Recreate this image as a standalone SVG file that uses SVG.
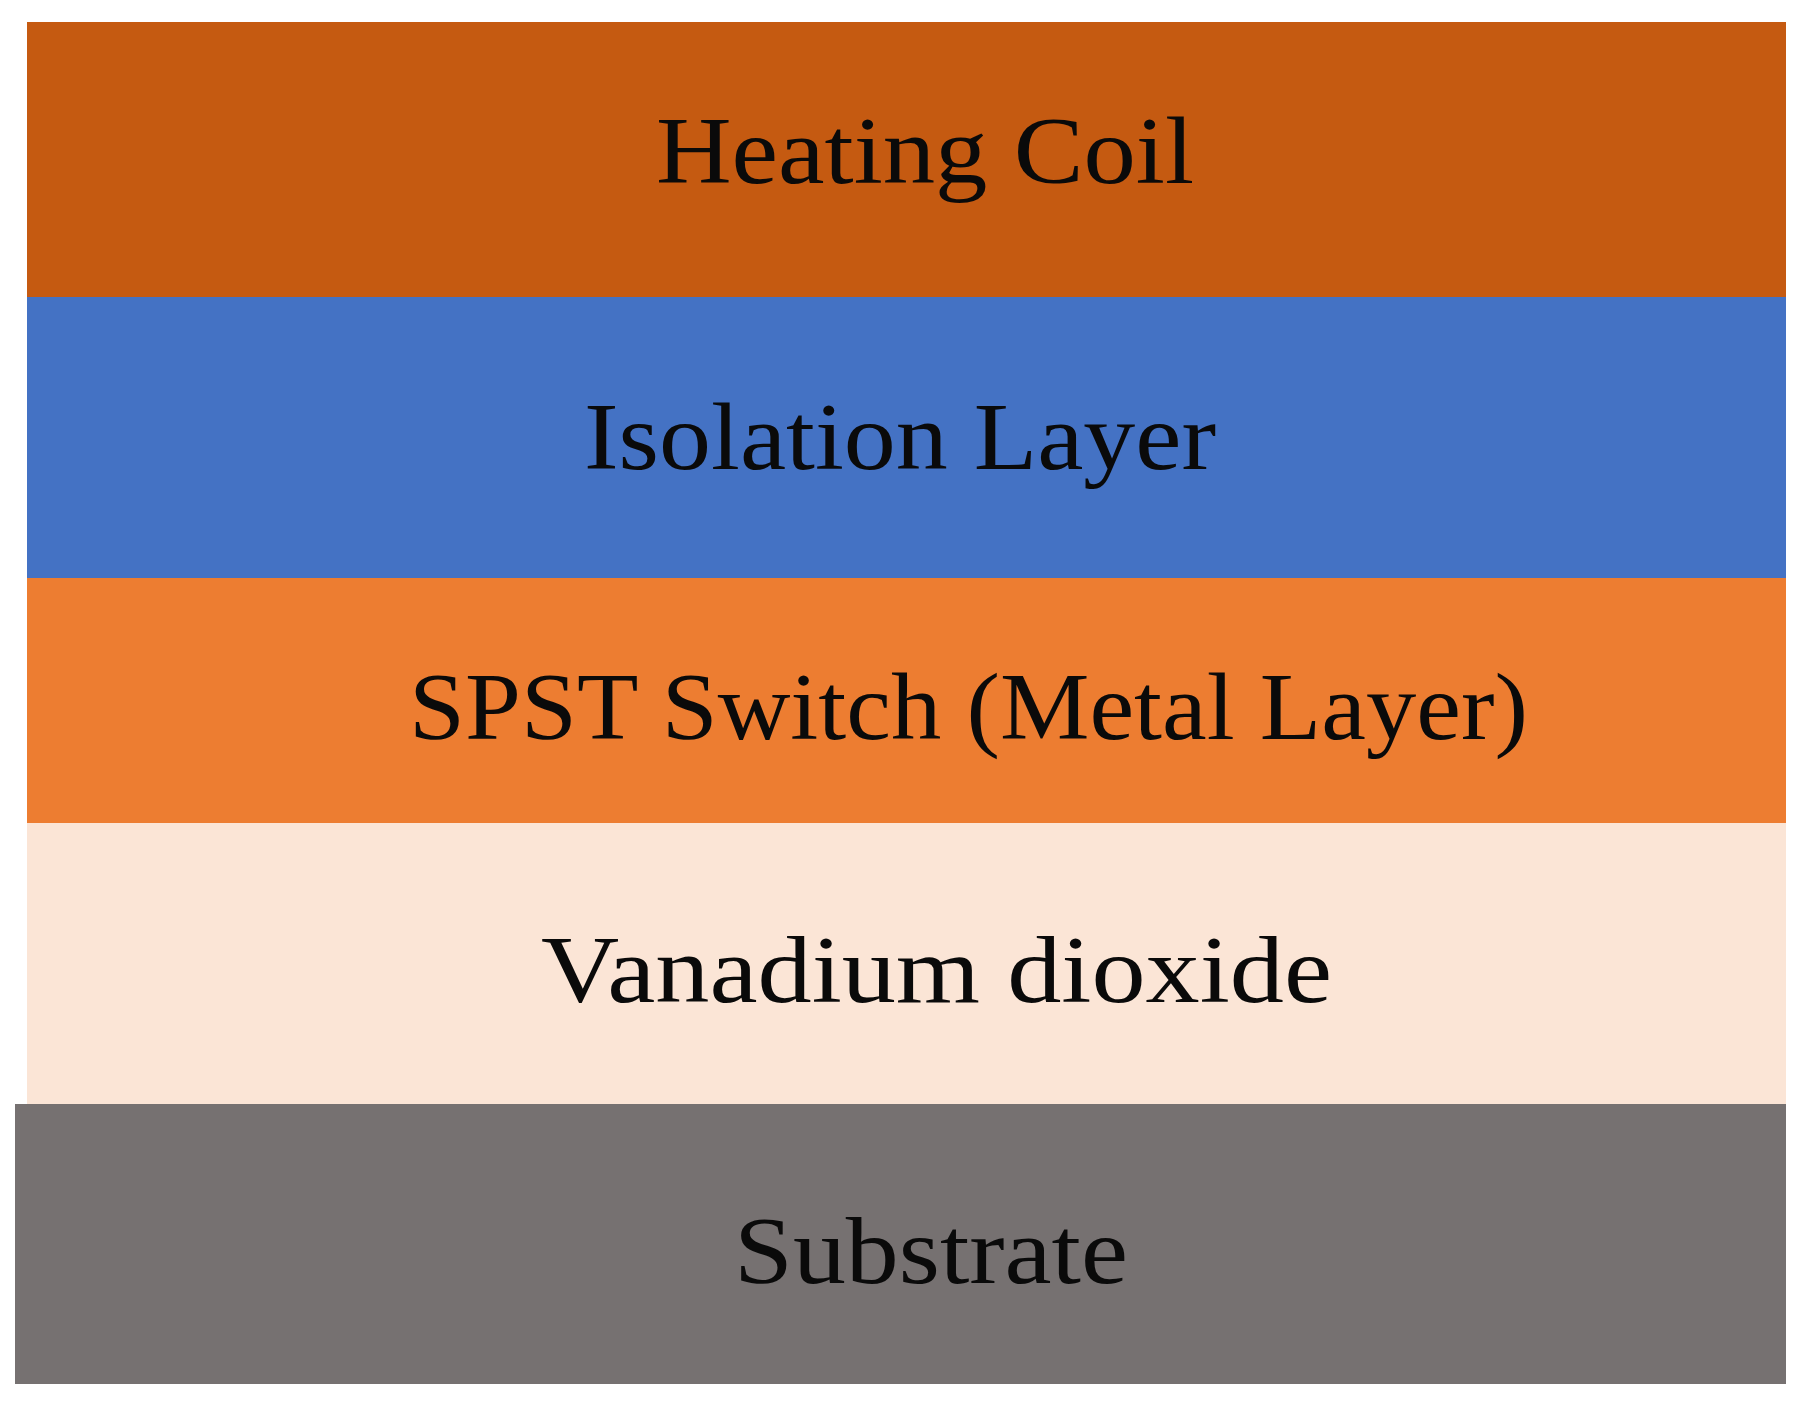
<svg xmlns="http://www.w3.org/2000/svg" width="1816" height="1404" viewBox="0 0 1816 1404">
<style>
.lbl{font-family:"Liberation Serif","Times New Roman",serif;font-size:96px;fill:#0a0a0a;}
</style>
<rect x="0" y="0" width="1816" height="1404" fill="#ffffff"/>
<g id="heating-coil">
<rect x="27" y="22" width="1759" height="275" fill="#C55A11"/>
<text class="lbl" x="656" y="183" textLength="538" lengthAdjust="spacingAndGlyphs">Heating Coil</text>
</g>
<g id="isolation-layer">
<rect x="27" y="297" width="1759" height="281" fill="#4472C4"/>
<text class="lbl" x="584" y="469" textLength="632" lengthAdjust="spacingAndGlyphs">Isolation Layer</text>
</g>
<g id="spst-switch">
<rect x="27" y="578" width="1759" height="245" fill="#ED7D31"/>
<text class="lbl" x="409" y="739" textLength="1119" lengthAdjust="spacingAndGlyphs">SPST Switch (Metal Layer)</text>
</g>
<g id="vanadium-dioxide">
<rect x="27" y="823" width="1759" height="281" fill="#FBE5D6"/>
<text class="lbl" x="541" y="1002" textLength="791" lengthAdjust="spacingAndGlyphs">Vanadium dioxide</text>
</g>
<g id="substrate">
<rect x="15" y="1104" width="1771" height="280" fill="#767171"/>
<text class="lbl" x="734" y="1283" textLength="394" lengthAdjust="spacingAndGlyphs">Substrate</text>
</g>
<g id="connectors"></g>
</svg>
